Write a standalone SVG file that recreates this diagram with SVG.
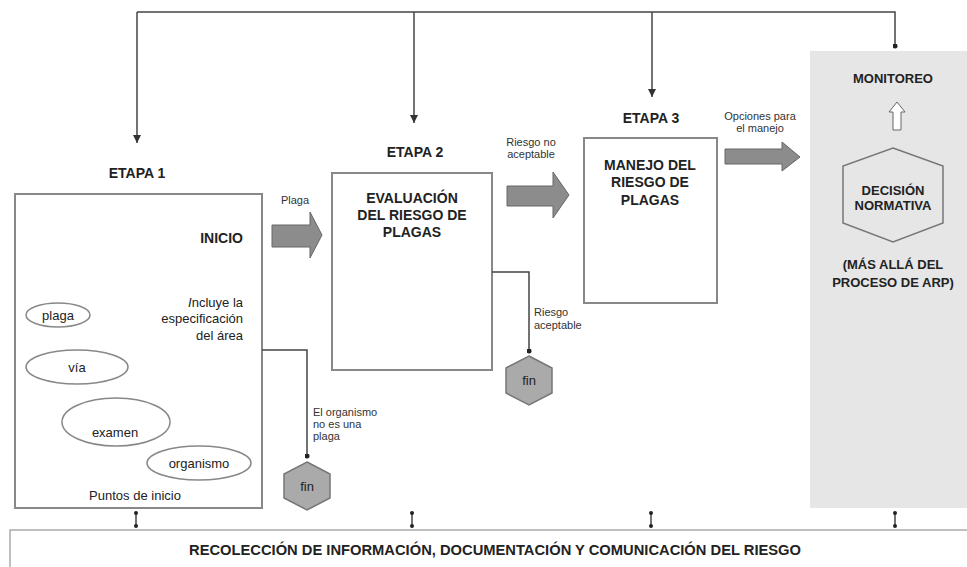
<svg xmlns="http://www.w3.org/2000/svg" width="967" height="567" viewBox="0 0 967 567">
<defs>
<style>
text{font-family:"Liberation Sans",Arial,sans-serif;fill:#222}
.b{font-weight:bold;font-size:14px}
.m{font-weight:bold;font-size:13px}
.r{font-size:13px}
.s{font-size:11px;fill:#333}
.box{fill:#fff;stroke:#888;stroke-width:2}
.ell{fill:#fff;stroke:#888;stroke-width:1.5}
.blk{fill:#8c8c8c;stroke:#666;stroke-width:1}
.hex{fill:#aaa;stroke:#777;stroke-width:1.5}
.ln{fill:none;stroke:#444;stroke-width:1.5}
.c{text-anchor:middle}
.e{text-anchor:end}
</style>
<marker id="ah" viewBox="0 0 10 10" refX="10" refY="5" markerWidth="8" markerHeight="8" markerUnits="userSpaceOnUse" orient="auto"><path d="M0,0 L10,5 L0,10 z" fill="#333"/></marker>
<marker id="dot" viewBox="0 0 10 10" refX="5" refY="5" markerWidth="5" markerHeight="5" markerUnits="userSpaceOnUse"><circle cx="5" cy="5" r="5" fill="#222"/></marker>
</defs>
<rect width="967" height="567" fill="#fff"/>

<g id="panel">
<rect x="810" y="51" width="160" height="457" fill="#e6e6e6"/>
<text class="m c" x="893" y="83">MONITOREO</text>
<polygon points="897,102 889,112 893,112 893,130 901,130 901,112 905,112" fill="#fff" stroke="#666" stroke-width="1"/>
</g>

<g id="decision">
<polygon points="893,148 943,166 943,223 893,242 843,223 843,166" fill="none" stroke="#777" stroke-width="1.5"/>
<text class="m c" x="893" y="195">DECISIÓN</text>
<text class="m c" x="893" y="210">NORMATIVA</text>
<text class="m c" x="893" y="269">(MÁS ALLÁ DEL</text>
<text class="m c" x="893" y="287">PROCESO DE ARP)</text>
</g>

<g id="etapa1">
<text class="b c" x="137" y="178">ETAPA 1</text>
<rect class="box" x="15" y="194" width="247" height="314"/>
<text class="b e" x="243" y="243">INICIO</text>
<text class="r e" x="243" y="307" font-size="14"><tspan font-style="italic">I</tspan>ncluye la</text>
<text class="r e" x="243" y="323" font-size="14">especificación</text>
<text class="r e" x="243" y="340" font-size="14">del área</text>
<text class="r c" x="135" y="500">Puntos de inicio</text>
</g>
<g id="plaga-ell"><ellipse class="ell" cx="58" cy="315" rx="32" ry="12"/><text class="r c" x="58" y="320">plaga</text></g>
<g id="via-ell"><ellipse class="ell" cx="77" cy="367" rx="51" ry="17"/><text class="r c" x="77" y="372">vía</text></g>
<g id="examen-ell"><ellipse class="ell" cx="116" cy="422" rx="54" ry="24"/><text class="r c" x="115" y="437">examen</text></g>
<g id="organismo-ell"><ellipse class="ell" cx="199" cy="463" rx="52" ry="17"/><text class="r c" x="199" y="468">organismo</text></g>

<g id="etapa2">
<text class="b c" x="415" y="157">ETAPA 2</text>
<rect class="box" x="332" y="173" width="160" height="197"/>
<text class="b c" x="412" y="203">EVALUACIÓN</text>
<text class="b c" x="412" y="220">DEL RIESGO DE</text>
<text class="b c" x="412" y="237">PLAGAS</text>
</g>

<g id="etapa3">
<text class="b c" x="651" y="123">ETAPA 3</text>
<rect class="box" x="584" y="138" width="133" height="165"/>
<text class="b c" x="650" y="170">MANEJO DEL</text>
<text class="b c" x="650" y="187">RIESGO DE</text>
<text class="b c" x="650" y="205">PLAGAS</text>
</g>

<g id="fin1">
<polygon class="hex" points="307,462 330,474 330,498 307,510 284,498 284,474"/>
<text class="r c" x="307" y="491">fin</text>
</g>
<g id="fin2">
<polygon class="hex" points="529,356 552,368 552,393 529,405 506,393 506,368"/>
<text class="r c" x="529" y="385">fin</text>
</g>

<g id="bottom">
<rect x="10" y="530" width="970" height="50" fill="#fff" stroke="#aaa" stroke-width="1.5"/>
<text class="b c" x="495" y="555" textLength="612" lengthAdjust="spacingAndGlyphs">RECOLECCIÓN DE INFORMACIÓN, DOCUMENTACIÓN Y COMUNICACIÓN DEL RIESGO</text>
</g>

<g id="connectors">
<polyline class="ln" points="137,12 895,12 895,46" marker-end="url(#dot)"/>
<line class="ln" x1="137" y1="12" x2="137" y2="143" marker-end="url(#ah)"/>
<line class="ln" x1="414" y1="12" x2="414" y2="123" marker-end="url(#ah)"/>
<line class="ln" x1="652" y1="12" x2="652" y2="97" marker-end="url(#ah)"/>

<polygon class="blk" points="272,225 310,225 310,212 322,235 310,258 310,247 272,247"/>
<text class="s c" x="295" y="204">Plaga</text>
<polygon class="blk" points="507,186 553,186 553,172 569,195 553,218 553,206 507,206"/>
<text class="s c" x="531" y="146">Riesgo no</text>
<text class="s c" x="531" y="158">aceptable</text>
<polygon class="blk" points="725,149 782,149 782,142 800,157 782,171 782,164 725,164"/>
<text class="s c" x="760" y="120">Opciones para</text>
<text class="s c" x="760" y="132">el manejo</text>

<polyline class="ln" points="262,350 307,350 307,456" marker-end="url(#dot)"/>
<text class="s" x="313" y="416">El organismo</text>
<text class="s" x="313" y="428">no es una</text>
<text class="s" x="313" y="440">plaga</text>
<polyline class="ln" points="492,272 529,272 529,351" marker-end="url(#dot)"/>
<text class="s" x="534" y="316">Riesgo</text>
<text class="s" x="534" y="329">aceptable</text>

<g fill="#222" stroke="#444" stroke-width="1.5">
<line x1="136" y1="513" x2="136" y2="526"/><circle cx="136" cy="513" r="2" stroke="none"/><circle cx="136" cy="526" r="2" stroke="none"/>
<line x1="412" y1="513" x2="412" y2="526"/><circle cx="412" cy="513" r="2" stroke="none"/><circle cx="412" cy="526" r="2" stroke="none"/>
<line x1="651" y1="513" x2="651" y2="526"/><circle cx="651" cy="513" r="2" stroke="none"/><circle cx="651" cy="526" r="2" stroke="none"/>
<line x1="895" y1="513" x2="895" y2="526"/><circle cx="895" cy="513" r="2" stroke="none"/><circle cx="895" cy="526" r="2" stroke="none"/>
</g>
</g>
</svg>
